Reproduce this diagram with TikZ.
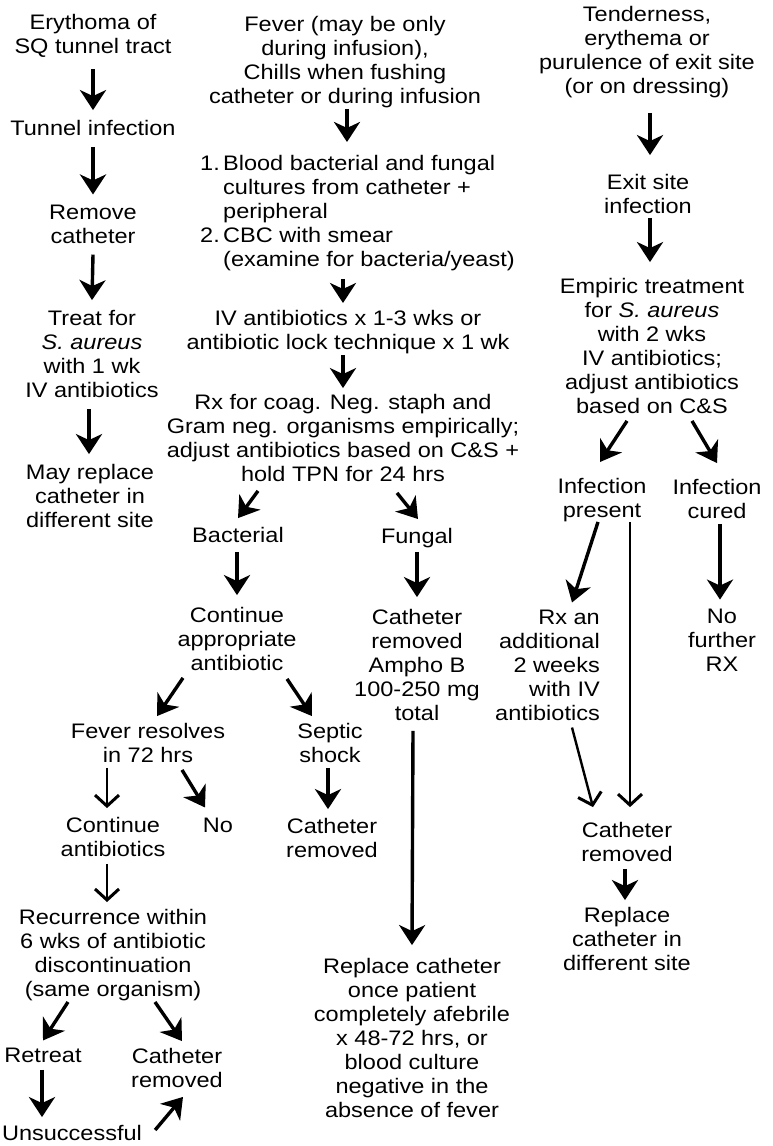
\documentclass[tikz,border=0pt]{standalone}
\usepackage{fontspec}
\setmainfont{Liberation Sans}[FakeStretch=1.12]
\usetikzlibrary{arrows.meta,calc}
\begin{document}
\begin{tikzpicture}[x=1pt,y=-1pt,
  font=\fontsize{21}{24}\selectfont,
  every node/.style={inner sep=0pt,align=center},
  arr/.style={line width=3.4pt,-{Stealth[length=20pt,width=26pt,inset=6pt]}},
  tarr/.style={line width=2.4pt,-{Straight Barb[length=11pt,width=24pt,line width=3pt]}}]
\fill[white] (0,0) rectangle (772,1146);
\useasboundingbox (0,0) rectangle (772,1146);
% left column
\node (ery) at (93,36) {Erythoma of\\SQ tunnel tract};
\node (tun) at (93,128) {Tunnel infection};
\node (rem) at (93,224) {Remove\\catheter};
\node (treat) at (92,354) {Treat for\\\textit{S. aureus}\\with 1 wk\\IV antibiotics};
\node (may) at (90,496) {May replace\\catheter in\\different site};
% middle column
\node (fev) at (345,62) {Fever (may be only\\during infusion),\\Chills when fushing\\catheter or during infusion};
\node[anchor=north west,align=left] (cult) at (200,155) {\makebox[23pt][l]{1.}Blood bacterial and fungal\\\hspace*{23pt}cultures from catheter +\\\hspace*{23pt}peripheral\\\makebox[23pt][l]{2.}CBC with smear\\\hspace*{23pt}(examine for bacteria/yeast)};
\node (iv) at (348,332) {IV antibiotics x 1-3 wks or\\antibiotic lock technique x 1 wk};
\node (rxc) at (343,438) {Rx for coag. Neg. staph and\\Gram neg. organisms empirically;\\adjust antibiotics based on C\&S +\\hold TPN for 24 hrs};
\node (bact) at (238,535) {Bacterial};
\node (fung) at (417,538) {Fungal};
\node (cont) at (237,639) {Continue\\appropriate\\antibiotic};
\node (cath1) at (417,665) {Catheter\\removed\\Ampho B\\100-250 mg\\total};
\node (fres) at (148,743) {Fever resolves\\in 72 hrs};
\node (sept) at (330,743) {Septic\\shock};
\node (no) at (218,825) {No};
\node (conta) at (113,837) {Continue\\antibiotics};
\node (cath2) at (332,838) {Catheter\\removed};
\node (recur) at (113,955) {Recurrence within\\6 wks of antibiotic\\discontinuation\\(same organism)};
\node (retr) at (43,1055) {Retreat};
\node (cath3) at (177,1068) {Catheter\\removed};
\node (uns) at (72,1133) {Unsuccessful};
\node (repl) at (412,1038) {Replace catheter\\once patient\\completely afebrile\\x 48-72 hrs, or\\blood culture\\negative in the\\absence of fever};
% right column
\node (ten) at (647,52) {Tenderness,\\erythema or\\purulence of exit site\\(or on dressing)};
\node (exit) at (648,194) {Exit site\\infection};
\node (emp) at (652,346) {Empiric treatment\\for \textit{S. aureus}\\with 2 wks\\IV antibiotics;\\adjust antibiotics\\based on C\&S};
\node (ipres) at (602,500) {Infection\\present};
\node (icur) at (717,499) {Infection\\cured};
\node[anchor=east,align=right] (rxan) at (600,665) {Rx an\\additional\\2 weeks\\with IV\\antibiotics};
\node (nofur) at (722,640) {No\\further\\RX};
\node (cath4) at (627,842) {Catheter\\removed};
\node (repl2) at (627,939) {Replace\\catheter in\\different site};
% left arrows
\draw[arr] ($(ery.south)+(0,11)$) -- ($(tun.north)+(0,-10)$);
\draw[arr] ($(tun.south)+(0,11)$) -- ($(rem.north)+(0,-10)$);
\draw[arr] ($(rem.south)+(0,11)$) -- ($(treat.north)+(0,-10)$);
\draw[arr] ($(treat.south)+(-3,11)$) -- ($(may.north)+(-1,-10)$);
% middle arrows
\draw[arr] ($(fev.south)+(2,1)$) -- ($(fev.south |- cult.north)+(2,-13)$);
\draw[arr] ($(cult.south -| rxc.north)+(0,8)$) -- ($(iv.north)+(-5,-7)$);
\draw[arr] ($(iv.south)+(-5,1)$) -- ($(rxc.north)+(0,-6)$);
\draw[arr] ($(rxc.south)+(-85,9)$) -- ($(bact.north)+(0,-9)$);
\draw[arr] ($(rxc.south)+(54,11)$) -- ($(fung.north)+(1,-9)$);
\draw[arr] ($(bact.south)+(-1,9)$) -- ($(cont.north)+(0,-12)$);
\draw[arr] ($(fung.south)+(0,4)$) -- ($(cath1.north)+(0,-12)$);
\draw[arr] ($(cont.south)+(-54,7)$) -- ($(fres.north)+(9,-7)$);
\draw[arr] ($(cont.south)+(50,8)$) -- ($(sept.north)+(-18,-7)$);
\draw[arr] ($(cath1.south)+(-4,10)$) -- ($(repl.north)+(0,-13)$);
\draw[tarr] ($(fres.south)+(-41,5)$) -- ($(conta.north)+(-6,-9)$);
\draw[arr] ($(fres.south)+(34,7)$) -- ($(no.north)+(-13,-10)$);
\draw[arr] ($(sept.south)+(-2,5)$) -- ($(cath2.north)+(-4,-9)$);
\draw[tarr] ($(conta.south)+(-6,7)$) -- ($(recur.north)+(-6,-7)$);
\draw[arr] ($(recur.south)+(-45,1)$) -- ($(retr.north)+(0,-7)$);
\draw[arr] ($(recur.south)+(42,1)$) -- ($(cath3.north)+(5,-7)$);
\draw[arr] ($(retr.south)+(-1,7)$) -- ($(uns.north)+(-30,-8)$);
\draw[arr] ($(uns.east)+(13,-3)$) -- ($(cath3.south)+(6,9)$);
% right arrows
\draw[arr] ($(ten.south)+(3,15)$) -- ($(exit.north)+(2,-19)$);
\draw[arr] ($(exit.south)+(2,4)$) -- ($(emp.north)+(-2,-16)$);
\draw[arr] ($(emp.south)+(-25,7)$) -- ($(ipres.north)+(-2,-16)$);
\draw[arr] ($(emp.south)+(40,7)$) -- ($(icur.north)+(0,-16)$);
\draw[arr] ($(ipres.south)+(-4,0)$) -- ($(rxan.north east)+(-28,-7)$);
\draw[tarr] ($(ipres.south)+(28,0)$) -- ($(cath4.north)+(3,-15)$);
\draw[arr] ($(icur.south)+(3,5)$) -- ($(nofur.north)+(-2,-9)$);
\draw[tarr] ($(rxan.south east)+(-28,7)$) -- ($(cath4.north)+(-34,-15)$);
\draw[arr] ($(cath4.south)+(-2,7)$) -- ($(repl2.north)+(-2,-7)$);
\end{tikzpicture}
\end{document}
